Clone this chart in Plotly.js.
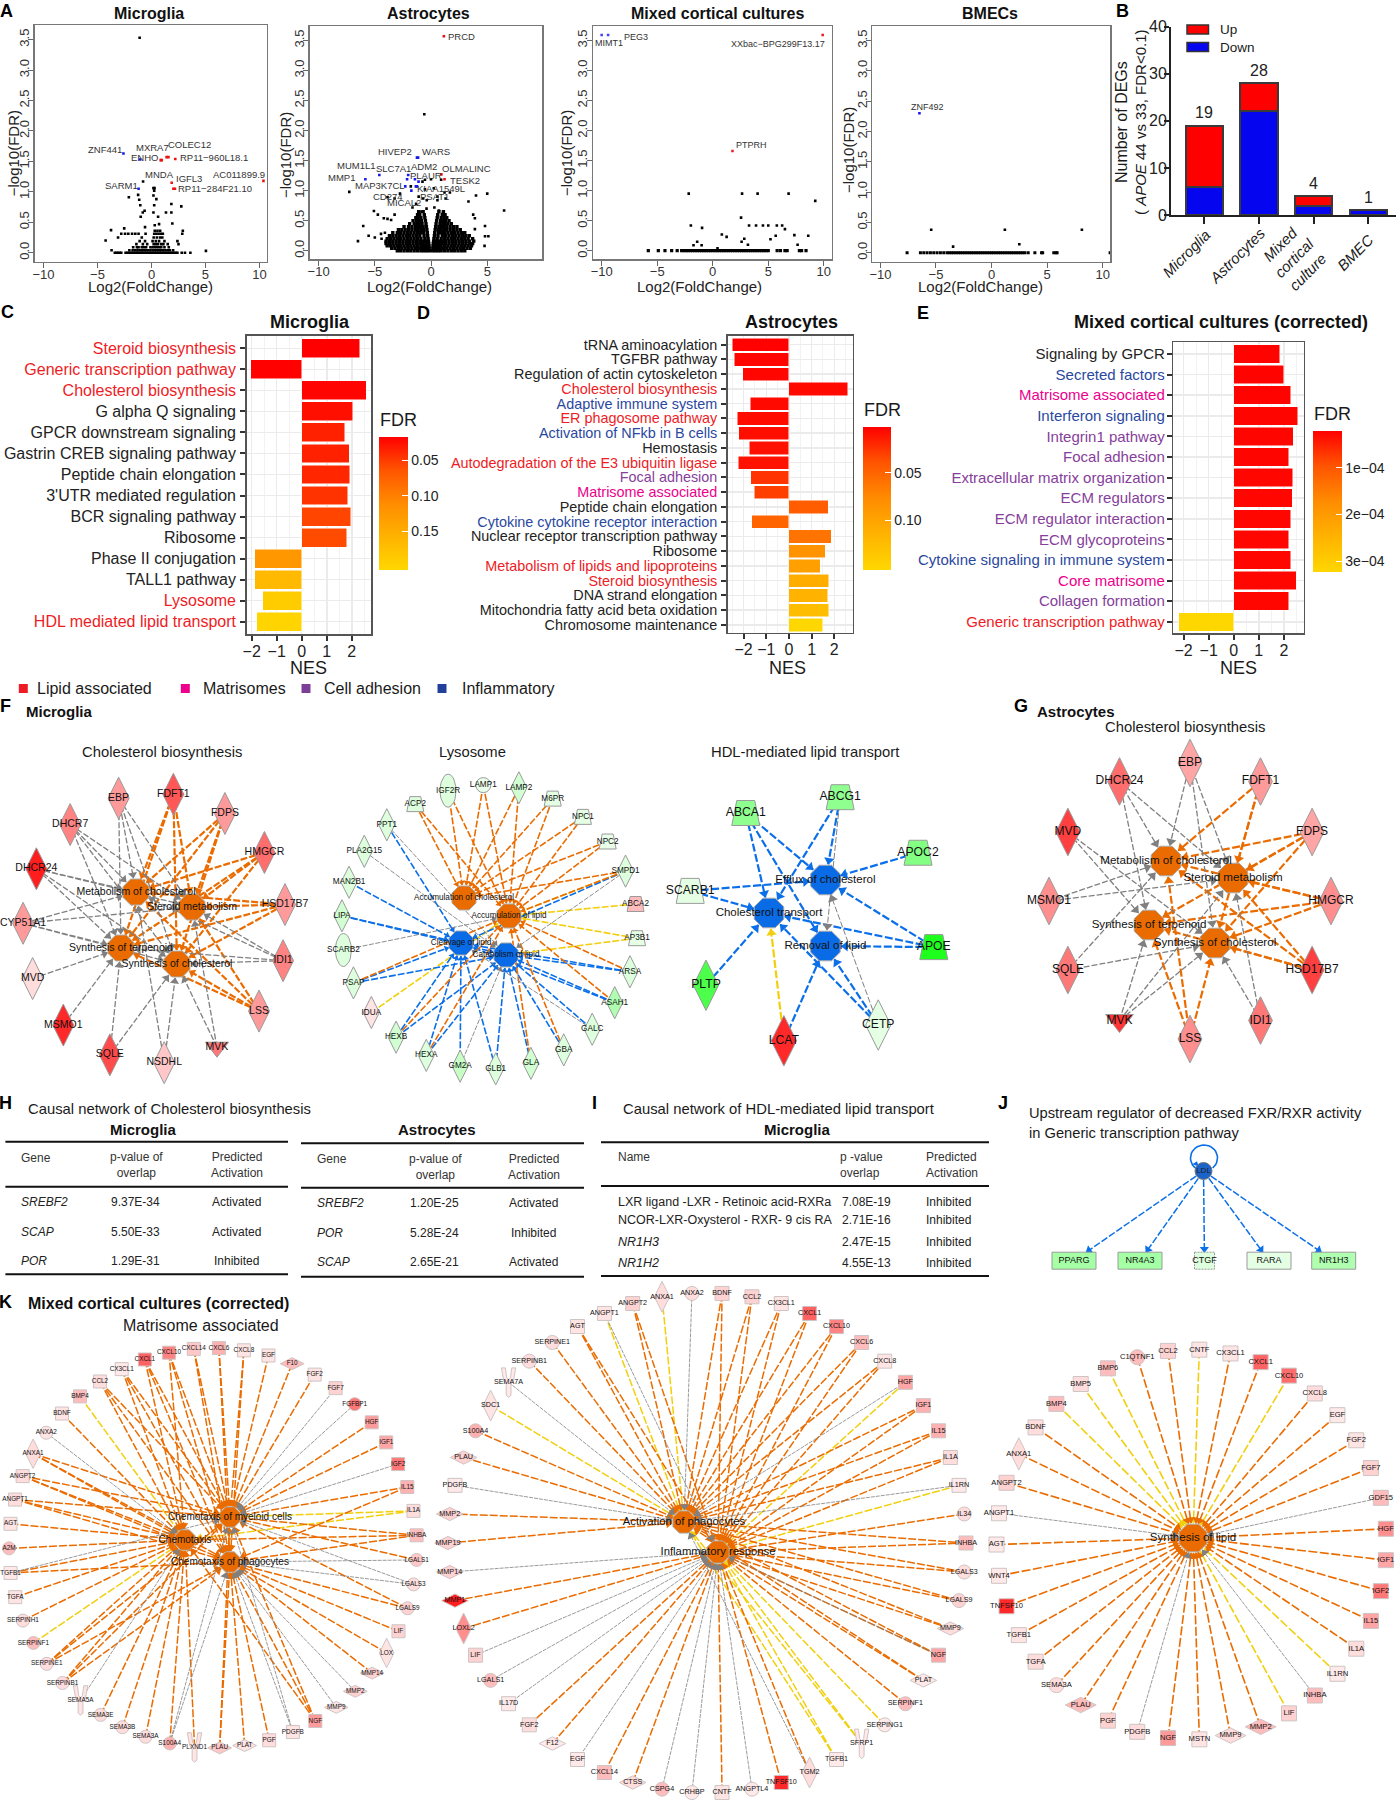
<!DOCTYPE html>
<html><head><meta charset="utf-8">
<script src="https://cdn.plot.ly/plotly-3.0.1.min.js"></script>
<style>html,body{margin:0;padding:0;background:#fff}#c{width:1397px;height:1800px}</style>
</head><body><div id="c"></div>
<script>
// ===== DATA: panel A volcano plots =====
const mgRowLevels=[0,.04,.09,.14,.19,.25,.31,.36];
const mgRowX=[
[-3.4,-3.25,-3.1,-2.95,-2.8,-2.4,-2.25,-2.1,-1.95,-1.8,-1.65,-1.5,-1.35,-1.2,-1.05,-.9,-.75,-.6,-.45,-.3,-.15,0,.15,.3,.45,.6,.75,.9,1.05,1.2,1.35,1.5,1.65,1.8,1.95,2.1,2.25,2.4,2.8,3.1,3.6],
[-3.7,-2.05,-1.75,-1.5,-1.3,-1.1,-.9,-.7,-.5,-.3,-.1,.1,.3,.5,.7,.9,1.1,1.3,1.5,1.7,2],
[-1.7,-1.35,-1.2,-.9,-.7,-.5,-.1,.1,.3,.5,.7,.9,1.2,1.6],
[-1.4,-.8,-.4,.2,.4,.6,.9,1.1,1.5,2.5],
[-1.1,-.6,.1,.4,.7,1.2,2.4],
[-3.1,-.9,.2,.5,.8,1],
[-2.8,-2.45,-2.15,-1.8,-1.5,-1.2,-.55,.25,.45,.65,.85,1.05,2.85],
[.3,.55,.8,2.9]];
const mgBlackX=[-1.1,-.78,.18,.28,.25,-2.1,-1.24,-1.14,-1.04,.18,.45,.25,1.84,2.76,-.64,-.81,.18,.61,1.34,1.84,1.93,-1,5.04,-3.75,-2.53,-4.25,-.6,.3,.7];
const mgBlackY=[3.53,1.17,1.06,1.06,1.02,.91,.95,.87,.78,.94,.88,.78,.8,.76,.69,.66,.66,.59,.66,.66,.48,.59,.03,.37,.4,.2,.42,.45,.47];
const mgBlueX=[-2.6,-1.2,-1.07];
const mgBlueY=[1.63,1.05,1.53];
const mgRedX=[.85,.95,1.4,1.57,2.2,1.87,2.03,2.17,10.37];
const mgRedY=[1.52,1.52,1.57,1.57,1.54,1.15,1.05,1.05,1.18];

const asRowLevels=[0,.04,.08,.12,.16,.2,.25,.3,.35,.4,.45,.5,.55,.6,.65];
const asRowX=[
[-3,-2.7,-2.4,-2.1,-1.8,-1.5,-1.2,-.9,-.65,-.4,-.15,.15,.4,.65,.9,1.2,1.5,1.8,2.1,2.4,2.7,3],
[-3.5,-3.2,-2.9,-2.6,-2.3,-2,-1.7,-1.4,-1.1,-.85,-.6,-.38,-.16,.16,.38,.6,.85,1.1,1.4,1.7,2,2.3,2.6,2.9,3.2,3.5],
[-3.9,-3.6,-3.3,-3,-2.7,-2.4,-2.1,-1.8,-1.5,-1.2,-.9,-.65,-.42,-.18,.18,.42,.65,.9,1.2,1.5,1.8,2.1,2.4,2.7,3,3.3,3.6],
[-4,-3.7,-3.4,-3.1,-2.8,-2.5,-2.2,-1.9,-1.6,-1.3,-1,-.75,-.47,-.2,.2,.47,.75,1,1.3,1.6,1.9,2.2,2.5,2.8,3.1,3.4,3.7],
[-4,-3.7,-3.4,-3.1,-2.8,-2.5,-2.2,-1.9,-1.6,-1.3,-1,-.75,-.48,-.23,.23,.48,.75,1,1.3,1.6,1.9,2.2,2.5,2.8,3.1,3.4,3.8],
[-3.9,-3.6,-3.3,-3,-2.7,-2.4,-2.1,-1.8,-1.5,-1.2,-.9,-.55,-.26,.26,.55,.9,1.2,1.5,1.8,2.1,2.4,2.7,3,3.3,3.7],
[-3.7,-3.4,-3.1,-2.8,-2.5,-2.2,-1.9,-1.6,-1.3,-1,-.62,-.3,.3,.62,1,1.3,1.6,1.9,2.2,2.5,2.8,3.1,3.4],
[-3.4,-3,-2.7,-2.4,-2.1,-1.8,-1.5,-1.2,-.95,-.65,-.33,.33,.65,.95,1.2,1.5,1.8,2.1,2.4,2.7,3],
[-2.9,-2.6,-2.3,-2,-1.7,-1.4,-1.15,-.9,-.66,-.37,.37,.66,.9,1.15,1.4,1.7,2,2.3,2.6],
[-2.4,-2,-1.7,-1.4,-1.15,-.95,-.7,-.41,.41,.7,.95,1.15,1.4,1.7,2,2.3],
[-1.9,-1.5,-1.25,-1.05,-.8,-.45,.45,.8,1.05,1.25,1.5,1.8],
[-1.6,-1.3,-1.1,-.85,-.5,.5,.85,1.1,1.3,1.6],
[-1.35,-1.15,-.9,-.55,.55,.9,1.15,1.4],
[-1.2,-1,-.6,.6,1,1.25],
[-1.1,-.7,.7,1.1]];
const asBlackX=[-.6,-7.27,5,4,3.33,6.5,3.75,3.9,-5.08,-4.73,-3.24,-6.03,-6.5,-5.55,-5,-4.2,-3.87,-3.55,4.8,4.8,5.1,4.76,-2.76,-3.87,-3.24,-1.65,-1.33,-.54,-.76,0,.9,-.54,.25,1.68,1.2,.57,1.3,-.7,-1.1,-.38,.57,-1.8,-.85,-.4,.7,1.05,.3,-4.45,-4.1,-4.4,-4,3.9,2.9,3.05];
const asBlackY=[2.27,.98,.95,.92,.82,.67,.6,.54,.66,.6,.6,.41,.16,.25,.22,.54,.53,.51,.41,.24,.24,.08,.95,.89,.87,.72,.78,1.18,1.15,1.19,1.18,1.02,1.04,.97,.97,.9,.87,.87,.9,.84,.84,1.07,.65,.7,.67,.62,.72,.28,.3,.2,.14,.36,.3,.24];
const asBlueX=[-5.84,-4.6,-2.03,-2.13,-1.43,-1.11,-1.25,-1.15,-2.29,-1.35,-1.25,-1.75];
const asBlueY=[1.19,1.26,1.26,1.19,1.19,1.15,1.55,1.55,1.07,1.07,1.07,1];
const asRedX=[1.14,.92,1.2];
const asRedY=[3.57,1.27,1.19];

const mxBaseX=[-5.8,-4.9,-4.3,-3.7,-3.2,-2.8,-2.6,-2.4,-2.2,-2,-1.8,-1.6,-1.4,-1.2,-1,-.8,-.6,-.4,-.2,0,.2,.4,.6,.8,1,1.2,1.4,1.6,1.8,2,2.2,2.4,2.6,2.8,3,3.2,3.4,3.6,3.8,4,4.2,4.4,4.6,4.8,5,5.8,6.1,6.5,6.7,7.8,8,8.4];
const mxBlackX=[-2.16,2.64,4.04,6.83,9.23,2.55,-1.97,-.96,3.27,3.9,4.52,5,5.77,6.25,6.5,.82,1.25,2.84,2.6,3.17,5.67,5.2,7.35,8.6,7.64,-1.4,-1.73,-1,.43];
const mxBlackY=[.95,.95,.95,.95,.83,.55,.42,.38,.42,.42,.42,.42,.42,.42,.36,.27,.23,.2,.15,.1,.25,.19,.26,.25,.1,.15,.09,.09,.04];
const mxBlueX=[-10,-9.42];
const mxBlueY=[3.59,3.59];
const mxRedX=[9.9,1.78];
const mxRedY=[3.59,1.66];

const bmBaseX=[-7.6,-6.4,-6.1,-5.8,-5.5,-5.2,-4.9,-4.6,-4.3,-4,-3.8,-3.6,-3.4,-3.2,-3,-2.8,-2.6,-2.4,-2.2,-2,-1.8,-1.6,-1.4,-1.2,-1,-.8,-.6,-.4,-.2,0,.2,.4,.6,.8,1,1.2,1.4,1.6,1.8,2,2.2,2.4,2.6,2.8,3,3.3,3.9,4.5,4.6,5.6,5.8,5.9,10.67];
const bmBlackX=[-5.43,1.2,8.13,2.5,-3.46];
const bmBlackY=[.38,.38,.38,.14,.1];
const bmBlueX=[-6.49];
const bmBlueY=[2.3];

// ===== DATA: panel B =====
const degCats=['Microglia','Astrocytes','Mixed cortical culture','BMEC'];
const degDown=[6,22,2,1];
const degUp=[13,6,2,0];
const degTotals=[19,28,4,1];

// ===== DATA: panels C, D, E =====
const cNames=['Steroid biosynthesis','Generic transcription pathway','Cholesterol biosynthesis','G alpha Q signaling','GPCR downstream signaling','Gastrin CREB signaling pathway','Peptide chain elongation',"3'UTR mediated regulation",'BCR signaling pathway','Ribosome','Phase II conjugation','TALL1 pathway','Lysosome','HDL mediated lipid transport'];
const cGroup=['L','L','L','','','','','','','','','','L','L'];
const cNES=[2.31,-2.03,2.57,2.04,1.72,1.89,1.91,1.83,1.96,1.8,-1.88,-1.88,-1.55,-1.79];
const cFDR=[.017,.018,.019,.025,.035,.035,.038,.045,.055,.058,.125,.165,.19,.2];
const dNames=['tRNA aminoacylation','TGFBR pathway','Regulation of actin cytoskeleton','Cholesterol biosynthesis','Adaptive immune system','ER phagosome pathway','Activation of NFkb in B cells','Hemostasis','Autodegradation of the E3 ubiquitin ligase','Focal adhesion','Matrisome associated','Peptide chain elongation','Cytokine cytokine receptor interaction','Nuclear receptor transcription pathway','Ribosome','Metabolism of lipids and lipoproteins','Steroid biosynthesis','DNA strand elongation','Mitochondria fatty acid beta oxidation','Chromosome maintenance'];
const dGroup=['','','','L','I','L','I','','L','A','M','','I','','','L','L','','',''];
const dNES=[-2.49,-2.41,-2.03,2.59,-1.71,-2.28,-2.21,-1.74,-2.24,-1.69,-1.53,1.74,-1.65,1.87,1.59,1.37,1.76,1.71,1.75,1.5];
const dFDR=[.003,.004,.005,.006,.006,.007,.008,.009,.01,.025,.03,.045,.05,.06,.085,.095,.11,.115,.125,.152];
const eNames=['Signaling by GPCR','Secreted factors','Matrisome associated','Interferon signaling','Integrin1 pathway','Focal adhesion','Extracellular matrix organization','ECM regulators','ECM regulator interaction','ECM glycoproteins','Cytokine signaling in immune system','Core matrisome','Collagen formation','Generic transcription pathway'];
const eGroup=['','I','M','I','A','A','A','A','A','A','I','M','A','L'];
const eNES=[1.84,2,2.27,2.56,2.37,2.2,2.35,2.33,2.27,2.2,2.28,2.49,2.19,-2.19];
const eFDR=[.000025,.000025,.000025,.000026,.000026,.000026,.000027,.000027,.000027,.000027,.000028,.000028,.000028,.000323];
const legendNames=['Lipid associated','Matrisomes','Cell adhesion','Inflammatory'];

// ===== DATA: networks (value: + up / - down; shape code; edges: type letter + target hub indices) =====
const cholNames=['FDFT1','FDPS','HMGCR','HSD17B7','IDI1','LSS','MVK','NSDHL','SQLE','MSMO1','MVD','CYP51A1','DHCR24','DHCR7','EBP'];
const cholVals=[.75,.45,.65,.45,.55,.45,.6,.25,.8,.95,.15,.45,1,.55,.45];
const cholShapes=['d','d','d','d','d','d','v','d','d','d','d','d','d','d','d'];
const cholEdges=['o0123','o0123','o0123','o0123','g0123','o0123','g13','g03','g23','g2','g2','g0123','g0123','g0123','g0123'];
const cholHubs=['Metabolism of cholesterol','Steroid metabolism','Synthesis of terpenoid','Synthesis of cholesterol'];

const lysoNames=['LAMP1','LAMP2','M6PR','NPC1','NPC2','SMPD1','ABCA2','AP3B1','ARSA','ASAH1','GALC','GBA','GLA','GLB1','GM2A','HEXA','HEXB','IDUA','PSAP','SCARB2','LIPA','MAN2B1','PLA2G15','PPT1','ACP2','IGF2R'];
const lysoVals=[-.1,-.2,-.12,-.12,-.1,-.15,.3,-.12,-.15,-.35,-.15,-.15,-.2,-.15,-.25,-.15,-.2,.12,-.15,-.15,-.2,-.15,-.15,-.15,-.15,-.15];
const lysoShapes=['c','d','t','t','t','d','t','t','d','d','d','d','d','d','d','d','d','d','d','e','d','d','d','d','t','e'];
const lysoEdges=['o01','o01','o01','o01','o01','o01 y1 b2 g3','y1','y13','o1 b23','o1 b23','b3 g2','o1 b3','o1 b3','b23','b2 g3','o1 b23','o1 b23','y1','o1 b23','g1','b23','b2','g3','b2 g3','o01','o01'];
const lysoHubs=['Accumulation of cholesterol','Accumulation of lipid','Cleavage of lipid','Catabolism of lipid'];

const hdlNames=['ABCG1','APOC2','APOE','CETP','LCAT','PLTP','SCARB1','ABCA1'];
const hdlVals=[-.5,-.55,-1,-.12,.95,-.8,-.12,-.5];
const hdlShapes=['t','t','t','d','d','d','t','t'];
const hdlEdges=['b01 g2','b0','b012','b12 g0','y1 b2','b1','b01','b012'];
const hdlHubs=['Efflux of cholesterol','Cholesterol transport','Removal of lipid'];

const gNames=['EBP','FDFT1','FDPS','HMGCR','HSD17B7','IDI1','LSS','MVK','SQLE','MSMO1','MVD','DHCR24'];
const gVals=[.4,.45,.4,.5,.85,.6,.5,.9,.6,.5,.85,.65];
const gShapes=['d','d','d','d','d','d','d','v','d','d','d','d'];
const gEdges=['g013','o013','o0123','o0123','o0123','g13','o023','g123','g03','g01','g23','g012'];
const gHubs=cholHubs;

const k1Names=['CXCL14','CXCL6','CXCL8','EGF','F10','FGF2','FGF7','FGFBP1','HGF','IGF1','IGF2','IL15','IL1A','INHBA','LGALS1','LGALS3','LGALS9','LIF','LOX','MMP14','MMP2','MMP9','NGF','PDGFB','PGF','PLAT','PLAU','PLXND1','S100A4','SEMA3A','SEMA3B','SEMA3E','SEMA5A','SERPINB1','SERPINE1','SERPINF1','SERPINH1','TGFA','TGFB1','A2M','AGT','ANGPT1','ANGPT2','ANXA1','ANXA2','BDNF','BMP4','CCL2','CX3CL1','CXCL1','CXCL10'];
const k1Vals=[.25,.35,.12,.12,.3,.12,.2,.6,.45,.4,.6,.35,.15,.3,.25,.15,.2,.2,.12,.2,.2,.12,.45,.12,.15,.12,.25,.12,.35,.15,.15,.15,.12,.15,.15,.3,.15,.12,.1,.3,.12,.15,.15,.15,.12,.12,.3,.15,.1,.7,.55];
const k1Shapes=['s','s','s','s','w','s','s','c','s','s','s','s','s','s','c','c','c','s','d','w','w','w','s','s','s','w','w','y','c','c','c','c','y','c','c','c','c','s','s','c','s','s','s','d','c','s','s','s','s','s','s'];
const k1Edges=['o12','o12','o12','o1','o1','o1','g1','g1','o1','o1','g1','o12','y01','o012','o1 g2','g12','o12','o2','o2','o2','g2','g2','o012','g12','o2','o2','o12','o0','o0 g12','o0','o0','o0','g0','o012','o012','y0','o0','o0','o02 g1','o0','o0','o012','o012','o012','g0','o0','y0','o012','o012','o012','o012'];
const k1Hubs=['Chemotaxis','Chemotaxis of myeloid cells','Chemotaxis of phagocytes'];

const k2Names=['ANXA1','ANXA2','BDNF','CCL2','CX3CL1','CXCL1','CXCL10','CXCL6','CXCL8','HGF','IGF1','IL15','IL1A','IL1RN','IL34','INHBA','LGALS3','LGALS9','MMP9','NGF','PLAT','SERPINF1','SERPING1','SFRP1','TGFB1','TGM2','TNFSF10','ANGPTL4','CNTF','CRHBP','CSPG4','CTSS','CXCL14','EGF','F12','FGF2','IL17D','LGALS1','LIF','LOXL2','MMP1','MMP14','MMP19','MMP2','PDGFB','PLAU','S100A4','SDC1','SEMA7A','SERPINB1','SERPINE1','AGT','ANGPT1','ANGPT2'];
const k2Vals=[.15,.15,.2,.2,.12,.7,.55,.3,.12,.4,.35,.35,.15,.1,.15,.3,.15,.2,.15,.4,.1,.3,.1,.1,.1,.15,.95,.1,.12,.1,.3,.15,.3,.1,.1,.15,.1,.3,.2,.5,1,.2,.2,.2,.1,.2,.35,.12,.1,.15,.15,.12,.12,.2];
const k2Shapes=['d','c','s','s','s','s','s','s','s','s','s','s','s','s','c','s','c','c','w','s','w','c','c','y','s','d','s','c','s','c','c','w','s','s','w','s','s','c','s','d','w','w','w','w','s','w','c','d','y','c','c','s','s','s'];
const k2Edges=['y0','g0','o01','o01','o01','o01','o01','o01','o01','y1 g0','o01','o01','o01','y1 g0','o1','o01','o01','o01','o01','o01 g1','o01','o1','y1','y01','y01','o1 g0','o1','g1','o1','g1','g1','o1','o1','g1','o1','o1','g1','g1','g1','o1','o1','g1','o0','o0','g0','o0','o0','y0','g0','o0','o0','o01','y0 g1','o01'];
const k2Hubs=['Activation of phagocytes','Inflammatory response'];

const k3Names=['CNTF','CX3CL1','CXCL1','CXCL10','CXCL8','EGF','FGF2','FGF7','GDF15','HGF','IGF1','IGF2','IL15','IL1A','IL1RN','INHBA','LIF','MMP2','MMP9','MSTN','NGF','PDGFB','PGF','PLAU','SEMA3A','TGFA','TGFB1','TNFSF10','WNT4','AGT','ANGPT1','ANGPT2','ANXA1','BDNF','BMP4','BMP5','BMP6','C1QTNF1','CCL2'];
const k3Vals=[.12,.12,.7,.65,.15,.1,.12,.2,.3,.5,.4,.6,.4,.15,.1,.3,.2,.3,.15,.12,.45,.15,.2,.3,.15,.15,.12,.95,.1,.1,.1,.2,.15,.15,.3,.15,.3,.3,.2];
const k3Shapes=['s','s','s','s','s','s','s','s','s','s','s','s','s','s','s','s','s','w','w','s','s','s','s','w','c','s','s','s','s','s','s','s','d','s','s','s','s','c','s'];
const k3Edges=['y0','o0','o0','y0','o0','o0','o0','o0','g0','o0','o0','o0','o0','o0','y0','g0','y0','o0','o0','o0','o0','g0','o0','o0','o0','o0','o0','o0','o0','o0','g0','o0','o0','o0','y0','y0','y0','o0','o0'];
const k3Hubs=['Synthesis of lipid'];

const jNames=['PPARG','NR4A3','CTGF','RARA','NR1H3'];
const jVals=[-.4,-.4,-.15,-.12,-.35];

// ===== DATA: tables =====
const hHead=['Gene','p-value of<br>overlap','Predicted<br>Activation'];
const hMgGene=['SREBF2','SCAP','POR'];
const hMgP=['9.37E-34','5.50E-33','1.29E-31'];
const hMgAct=['Activated','Activated','Inhibited'];
const hAsGene=['SREBF2','POR','SCAP'];
const hAsP=['1.20E-25','5.28E-24','2.65E-21'];
const hAsAct=['Activated','Inhibited','Activated'];
const iName=['LXR ligand -LXR - Retinoic acid-RXRa','NCOR-LXR-Oxysterol - RXR- 9 cis RA','<i>NR1H3</i>','<i>NR1H2</i>'];
const iP=['7.08E-19','2.71E-16','2.47E-15','4.55E-13'];
const iAct=['Inhibited','Inhibited','Inhibited','Inhibited'];

// ===== BUILD =====
const W=1397,H=1800,FF='Liberation Sans, Arial, sans-serif';
const traces=[],ann=[],shapes=[];
const layout={width:W,height:H,margin:{l:0,r:0,t:0,b:0,pad:0},paper_bgcolor:'#fff',plot_bgcolor:'#fff',showlegend:false,barmode:'stack',font:{family:FF,color:'#222'},annotations:ann,shapes:shapes,
 xaxis:{domain:[0,1],range:[0,W],visible:false,fixedrange:true},yaxis:{domain:[0,1],range:[H,0],visible:false,fixedrange:true}};
function T(text,x,y,size,o){o=o||{};ann.push({text:text,x:x,y:y,xref:'x',yref:'y',showarrow:false,xanchor:o.a||'center',yanchor:'middle',align:o.al||(o.a=='left'?'left':'center'),textangle:o.rot||0,borderpad:0,
 font:{size:size,family:FF,color:o.c||'#1a1a1a',weight:o.b?700:400}});}
function B(t){return '<b>'+t+'</b>';}
function setAxes(n,l,r,t,b,xr,yr,xo,yo){
 layout['xaxis'+n]=Object.assign({domain:[l/W,r/W],range:xr,anchor:'y'+n,fixedrange:true,zeroline:false},xo);
 layout['yaxis'+n]=Object.assign({domain:[1-b/H,1-t/H],range:yr,anchor:'x'+n,fixedrange:true,zeroline:false},yo);}

// ---- volcano ----
function flat(levels,rows){const X=[],Y=[];rows.forEach((r,i)=>r.forEach(v=>{X.push(v);Y.push(levels[i]);}));return [X,Y];}
function volcano(n,box,xr,yr,title,tx,xl,ylx,ylyc,sets,labels,mf){
 const base={showline:true,mirror:true,linecolor:'#777',linewidth:1.5,ticks:'outside',ticklen:5,tickcolor:'#666',tickwidth:1,showgrid:false,tickfont:{size:13,color:'#333'}};
 setAxes(n,box[0],box[1],box[2],box[3],xr,yr,Object.assign({},base,{tickvals:[-10,-5,0,5,10],ticklabelstandoff:-5}),Object.assign({},base,{tickvals:[0,.5,1,1.5,2,2.5,3,3.5],tickformat:'.1f',tickangle:-90,ticklabelstandoff:-6}));
 sets.forEach(s=>traces.push({type:'scatter',mode:'markers',x:s.x,y:s.y,xaxis:'x'+n,yaxis:'y'+n,hoverinfo:'skip',marker:{symbol:'square',size:s.size||2.6,color:s.c}}));
 [-1,1].forEach(v=>shapes.push({type:'line',layer:'below',xref:'x'+n,yref:'y'+n+' domain',x0:v,x1:v,y0:0,y1:1,line:{color:'#c4c4c4',width:1,dash:'dot'}}));
 shapes.push({type:'line',layer:'below',xref:'x'+n+' domain',yref:'y'+n,x0:0,x1:1,y0:1,y1:1,line:{color:'#c4c4c4',width:1,dash:'dot'}});
 T(B(title),tx,13.5,16,{c:'#111'});
 T('Log2(FoldChange)',xl,286,15,{c:'#222'});
 T('−log10(FDR)',ylx,ylyc,15,{rot:-90,c:'#222'});
 labels.forEach(a=>T(a[0],a[1],a[2],mf||9.5,{c:'#333'}));
}
const mgF=flat(mgRowLevels,mgRowX),asF=flat(asRowLevels,asRowX);
volcano(2,[34.6,266.8,25,261.7],[-10.83,10.68],[-.148,3.74],'Microglia',148.6,150,13.6,153.7,
 [{x:mgF[0],y:mgF[1],c:'#000'},{x:mgBlackX,y:mgBlackY,c:'#000'},{x:mgBlueX,y:mgBlueY,c:'#1a1aee'},{x:mgRedX,y:mgRedY,c:'#ee1111'}],
 [['ZNF441',105,149],['MXRA7',152.5,147],['COLEC12',189,144.7],['ENHO',144.6,157],['RP11−960L18.1',214,157],['MNDA',159,174],['AC011899.9',238.6,174],['IGFL3',189,178.7],['SARM1',121.4,185.7],['RP11−284F21.10',215,188]]);
volcano(3,[309.6,542,26,259.3],[-10.8,9.87],[-.143,3.74],'Astrocytes',428.6,429,285,155,
 [{x:asF[0],y:asF[1],c:'#000',size:3.4},{x:asBlackX,y:asBlackY,c:'#000'},{x:asBlueX,y:asBlueY,c:'#1a1aee'},{x:asRedX,y:asRedY,c:'#ee1111'}],
 [['PRCD',461.8,36],['HIVEP2',395,151],['WARS',435.7,151],['MUM1L1',356.4,165],['SLC7A1',393.6,168],['ADM2',424,166],['OLMALINC',466.4,168],['MMP1',341,177],['PLAUR',426,175],['TESK2',465,180],['MAP3K7CL',380,185],['KIAA1549L',441,188],['CD274',388,196],['PSAT1',434,196],['MICAL2',403.6,202]]);
volcano(4,[593,831.8,26,259.3],[-10.78,10.72],[-.143,3.74],'Mixed cortical cultures',717.5,699.4,566,153,
 [{x:mxBaseX,y:mxBaseX.map(()=>0),c:'#000',size:3.2},{x:mxBlackX,y:mxBlackY,c:'#000'},{x:mxBlueX,y:mxBlueY,c:'#4444ff'},{x:mxRedX,y:mxRedY,c:'#ee2222'}],
 [['MIMT1',609,43],['PEG3',636,36.7],['XXbac−BPG299F13.17',778,44.3],['PTPRH',751,145]],9);
volcano(5,[872.3,1110,26,261.7],[-10.73,10.66],[-.148,3.74],'BMECs',990,980,848,150,
 [{x:bmBaseX,y:bmBaseX.map(()=>0),c:'#000',size:3},{x:bmBlackX,y:bmBlackY,c:'#000'},{x:bmBlueX,y:bmBlueY,c:'#1a1aee'}],
 [['ZNF492',927,106.7]],9);

// ---- panel B ----
setAxes(6,1171,1395.6,26.7,215,[-.61,3.5],[0,40],
 {showline:true,linecolor:'#222',linewidth:2,ticks:'outside',ticklen:7,tickwidth:2,tickcolor:'#222',tickvals:[0,1,2,3],ticktext:['','','',''],showgrid:false},
 {showline:true,linecolor:'#222',linewidth:2,ticks:'outside',ticklen:5,tickwidth:2,tickcolor:'#222',tickvals:[0,10,20,30,40],showgrid:false,tickfont:{size:16,color:'#222'},ticklabelstandoff:-6});
const degIdx=degCats.map((_,i)=>i);
traces.push({type:'bar',x:degIdx,y:degDown,name:'Down',width:.68,xaxis:'x6',yaxis:'y6',hoverinfo:'skip',marker:{color:'#0505f0',line:{color:'#3a3a3a',width:2}}});
traces.push({type:'bar',x:degIdx,y:degUp,name:'Up',width:.68,xaxis:'x6',yaxis:'y6',hoverinfo:'skip',marker:{color:'#ff0000',line:{color:'#3a3a3a',width:2}}});
degTotals.forEach((v,i)=>ann.push({text:String(v),x:i,y:v,xref:'x6',yref:'y6',yshift:13,showarrow:false,font:{size:16,color:'#222',family:FF}}));
T('<i>Microglia</i>',1186,253,15,{rot:-45});
T('<i>Astrocytes</i>',1237,255,15,{rot:-45});
T('<i>Mixed<br>cortical<br>culture</i>',1294,258,15,{rot:-45});
T('<i>BMEC</i>',1355,252,15,{rot:-45});
T('Number of DEGs',1121,122,16,{rot:-90});
T('( <i>APOE</i> 44 vs 33, FDR&lt;0.1)',1140,122,15,{rot:-90});
[['Up',29.5,'#ff0000'],['Down',47,'#0505f0']].forEach(a=>{
 shapes.push({type:'rect',xref:'x',yref:'y',x0:1187,x1:1208.5,y0:a[1]-4.5,y1:a[1]+4.5,fillcolor:a[2],line:{color:'#333',width:1.5}});
 T(a[0],1219,a[1],13.5,{a:'left'});});

// ---- ranked bars ----
const GROUP={L:'#ee1c25',M:'#ec008c',A:'#86409b',I:'#2a48a0','':'#222'};
// The FDR colour bar runs red (small) at the top to gold (large) at the bottom, so colour is keyed on -FDR.
const SCALE=[[0,'#FFD700'],[.25,'#FFB300'],[.5,'#FF8C00'],[.75,'#FF5500'],[1,'#FF0000']];
function nesBars(n,box,xr,yr,names,group,nes,fdr,fs,cb,title,tx,nesX,standoff,shift){
 const a={showline:true,mirror:true,linecolor:'#555',linewidth:1.5,ticks:'outside',tickcolor:'#333',tickwidth:2,ticklen:5,showgrid:true,gridcolor:'#ebebeb',gridwidth:1.5};
 setAxes(n,box[0],box[1],box[2],box[3],xr,yr,Object.assign({},a,{tickmode:'linear',tick0:0,dtick:1,tickfont:{size:16,color:'#222'},ticklabelstandoff:-3,ticklabelshift:shift||0,minor:{dtick:.5,showgrid:true,gridcolor:'#f2f2f2',gridwidth:1}}),
  Object.assign({},a,{tickvals:names.map((_,i)=>i),ticktext:names.map((s,i)=>'<span style="color:'+GROUP[group[i]]+'">'+s+'</span>'),tickfont:{size:fs,color:'#222'},ticklabelstandoff:standoff}));
 traces.push({type:'bar',orientation:'h',x:nes,y:names.map((_,i)=>i),width:.9,xaxis:'x'+n,yaxis:'y'+n,hoverinfo:'skip',
  marker:{color:fdr.map(v=>-v),colorscale:SCALE,cmin:-cb.max,cmax:-cb.min,line:{color:'#fff',width:.5},
   colorbar:{x:cb.l/W,xanchor:'left',xpad:0,ypad:0,y:1-(cb.t+cb.b)/2/H,yanchor:'middle',thickness:cb.r-cb.l,thicknessmode:'pixels',len:cb.b-cb.t,lenmode:'pixels',outlinewidth:0,borderwidth:0,
    ticks:'inside',ticklen:6,tickcolor:'#fff',tickwidth:1,tickvals:cb.vals.map(v=>-v),ticktext:cb.text,tickfont:{size:14,color:'#222'}}}});
 cb.vals.forEach(v=>{const y=cb.t+(v-cb.min)/(cb.max-cb.min)*(cb.b-cb.t);shapes.push({type:'line',layer:'above',xref:'x',yref:'y',x0:cb.l,x1:cb.l+6,y0:y,y1:y,line:{color:'#fff',width:1}});});
 T('FDR',cb.l,cb.t-17,18,{a:'left'});
 T(B(title),tx,322,18,{c:'#111'});
 T('NES',nesX,668,18);
}
nesBars(7,[246.7,371.3,335.7,634.3],[-2.2,2.78],[13.6,-.6],cNames,cGroup,cNES,cFDR,16,{l:379.3,r:408.3,t:436.7,b:570,min:.017,max:.204,vals:[.05,.1,.15],text:['0.05','0.10','0.15']},'Microglia',310,308,1);
nesBars(8,[727.7,852.7,335.7,632.7],[-2.7,2.81],[19.53,-.61],dNames,dGroup,dNES,dFDR,14.4,{l:863,r:890.7,t:426.7,b:570,min:.002,max:.152,vals:[.05,.1],text:['0.05','0.10']},'Astrocytes',791,787.7,1,-2.5);
nesBars(9,[1173.3,1303.7,342.3,633.3],[-2.41,2.79],[13.56,-.57],eNames,eGroup,eNES,eFDR,15,{l:1313.3,r:1342,t:431.3,b:572,min:.000022,max:.000323,vals:[.0001,.0002,.0003],text:['1e−04','2e−04','3e−04']},'Mixed cortical cultures (corrected)',1221,1238,-1);

// legend row
[[23.3,36,'#ed1c24'],[185.3,202,'#ec008c'],[306,323,'#7b3f98'],[442,461,'#21409a']].forEach((a,i)=>{
 shapes.push({type:'rect',xref:'x',yref:'y',x0:a[0]-4.5,x1:a[0]+4.5,y0:684,y1:693,fillcolor:a[2],line:{width:0}});
 T(legendNames[i],a[1],688,16,{a:'left'});});

// panel letters and headers
[['A',6,11],['B',1122,11],['C',7,312],['D',423,313],['E',923,313],['F',5,706],['G',1021,706],['H',5,1103],['I',594,1103],['J',1003,1103],['K',5,1302]].forEach(a=>T(B(a[0]),a[1],a[2],18,{c:'#000'}));
T(B('Microglia'),25,711,15,{a:'left',c:'#111'});
T(B('Astrocytes'),1036,711,15,{a:'left',c:'#111'});
T(B('Mixed cortical cultures (corrected)'),27,1303,16,{a:'left',c:'#111'});
T('Cholesterol biosynthesis',161.6,751.7,14.8);
T('Lysosome',472,751.7,14.8);
T('HDL-mediated lipid transport',805,751.7,14.8);
T('Cholesterol biosynthesis',1185,726.7,14.8);
T('Matrisome associated',201,1325,16);

// ---- networks ----
const EDGE={o:{c:'#ea6c00'},b:{c:'#0a6fe8'},g:{c:'#808080'},y:{c:'#f2cf0e'}};
function fill(v){const a=Math.abs(v),k=Math.round(255-225*a),f=k.toString(16).padStart(2,'0');return v>=0?'#ff'+f+f:'#'+f+'ff'+f;}
function polyPts(kind,w,h){
 if(kind=='t')return [[-w*.32,-h/2],[w*.32,-h/2],[w/2,h/2],[-w/2,h/2]];
 if(kind=='r')return [[-w/2,-h/2],[w/2,-h/2],[w/2,h/2],[-w/2,h/2]];
 if(kind=='e'){const p=[];for(let i=0;i<24;i++){const a=i/24*2*Math.PI;p.push([w/2*Math.cos(a),h/2*Math.sin(a)]);}return p;}
 if(kind=='y')return [[-w*.45,-h*.48],[-w*.2,-h*.48],[-w*.12,-h*.16],[0,-h*.08],[w*.12,-h*.16],[w*.2,-h*.48],[w*.45,-h*.48],[w*.3,-h*.05],[w*.15,h*.07],[w*.15,h*.43],[0,h*.5],[-w*.15,h*.43],[-w*.15,h*.07],[-w*.3,-h*.05]];
}
function addPoly(kind,x,y,w,h,col,dash,stroke){const p=polyPts(kind,w,h);const X=p.map(q=>x+q[0]),Y=p.map(q=>y+q[1]);X.push(X[0]);Y.push(Y[0]);
 traces.push({type:'scatter',mode:'lines',x:X,y:Y,fill:'toself',fillcolor:col,line:{color:stroke||'#9a9a9a',width:1,dash:dash||'solid'},hoverinfo:'skip'});}
const SYM={s:'square',c:'circle',d:'diamond-tall',w:'diamond-wide',v:'triangle-down'};
function network(o){
 const n=o.names.length,P=o.names.map((_,i)=>{const a=(o.start+i*360/n)*Math.PI/180;return [o.cx+o.rx*Math.sin(a),o.cy-o.ry*Math.cos(a)];});
 const seg={y:[[],[]],b:[[],[]],o:[[],[]],g:[[],[]]},arr={y:[[],[],[]],b:[[],[],[]],o:[[],[],[]],g:[[],[],[]]};
 const R=o.hubSize/2;
 o.edges.forEach((e,i)=>e.split(' ').forEach(tok=>{const t=tok[0];tok.slice(1).split('').forEach(d=>{
  const h=o.hubPos[+d],dx=h[0]-P[i][0],dy=h[1]-P[i][1],L=Math.hypot(dx,dy),ex=h[0]-dx/L*R,ey=h[1]-dy/L*R;
  seg[t][0].push(P[i][0],ex,null);seg[t][1].push(P[i][1],ey,null);
  const back=o.arrow*.45;arr[t][0].push(ex-dx/L*back);arr[t][1].push(ey-dy/L*back);arr[t][2].push(Math.atan2(dx,-dy)*180/Math.PI);
 });}));
 Object.keys(seg).forEach(t=>{if(!seg[t][0].length)return;
  const w=t=='g'?o.gw:o.lw,d=t=='g'?o.gdash:o.dash;
  traces.push({type:'scatter',mode:'lines',x:seg[t][0],y:seg[t][1],line:{color:EDGE[t].c,width:w,dash:d},hoverinfo:'skip'});
  traces.push({type:'scatter',mode:'markers',x:arr[t][0],y:arr[t][1],marker:{symbol:'triangle-up',size:o.arrow,color:EDGE[t].c,angle:arr[t][2],line:{width:0}},hoverinfo:'skip'});});
 o.shapes.forEach((s,i)=>{if('tey'.includes(s)){const z=o.poly[s];addPoly(s,P[i][0],P[i][1],z[0],z[1],fill(o.vals[i]),'solid',o.stroke);}});
 traces.push({type:'scatter',mode:'markers+text',x:P.map(p=>p[0]),y:P.map(p=>p[1]),text:o.names,textposition:'middle center',textfont:{size:o.font,color:'#111'},hoverinfo:'skip',cliponaxis:false,
  marker:{symbol:o.shapes.map(s=>SYM[s]||'circle'),size:o.shapes.map(s=>o.size[s]||1),opacity:o.shapes.map(s=>SYM[s]?1:0),color:o.vals.map(fill),line:{color:o.stroke||'#9a9a9a',width:1}}});
 traces.push({type:'scatter',mode:'markers+text',x:o.hubPos.map(p=>p[0]),y:o.hubPos.map(p=>p[1]),text:o.hubs,textposition:'middle center',textfont:{size:o.hubFont,color:'#111'},hoverinfo:'skip',cliponaxis:false,
  marker:{symbol:'octagon',size:o.hubSize,color:o.hubCol,line:{color:'#aaa',width:1}}});
}
const OR='#ea6c00',BL='#0a6be6';
network({names:cholNames,vals:cholVals,shapes:cholShapes,edges:cholEdges,hubs:cholHubs,cx:155,cy:928,rx:132,ry:135,start:8,
 hubPos:[[136,892],[192,907],[121,948],[177,964]],hubSize:28,hubCol:[OR,OR,OR,OR],size:{d:30,v:20},poly:{},font:10.5,hubFont:10.5,arrow:8,lw:2.2,gw:1.3,dash:'7px,2px',gdash:'6px,2px'});
network({names:lysoNames,vals:lysoVals,shapes:lysoShapes,edges:lysoEdges,hubs:lysoHubs,cx:489.5,cy:927,rx:148,ry:142,start:-2.4,
 hubPos:[[464,898],[509,916],[461,943],[506,955]],hubSize:26,hubCol:[OR,OR,BL,BL],size:{d:23,c:15},poly:{t:[17,15],e:[16,33]},font:8.2,hubFont:8.2,arrow:6,lw:1.6,gw:.9,dash:'7px,2px',gdash:'5px,1.5px'});
network({names:hdlNames,vals:hdlVals,shapes:hdlShapes,edges:hdlEdges,hubs:hdlHubs,cx:812,cy:919,rx:125,ry:125,start:13,
 hubPos:[[825.4,880],[769,913],[825.4,946]],hubSize:32,hubCol:[BL,BL,BL],size:{d:36},poly:{t:[28,25]},font:12.2,hubFont:11.5,arrow:9,lw:2.2,gw:1,dash:'8px,2.5px',gdash:'6px,2px'});
network({names:gNames,vals:gVals,shapes:gShapes,edges:gEdges,hubs:gHubs,cx:1190,cy:901,rx:141,ry:138,start:0,
 hubPos:[[1166,861],[1233,878],[1149,925],[1215,943]],hubSize:32,hubCol:[OR,OR,OR,OR],size:{d:34,v:24},poly:{},font:12,hubFont:11.6,arrow:9,lw:2.2,gw:1.3,dash:'8px,2.5px',gdash:'6px,2px'});
const KS='#cfc4c4';
network({names:k1Names,vals:k1Vals,shapes:k1Shapes,edges:k1Edges,hubs:k1Hubs,cx:213,cy:1548,rx:204,ry:200,start:-5.4,stroke:KS,
 hubPos:[[185,1540],[230,1517],[230,1562]],hubSize:22,hubCol:[OR,OR,OR],size:{s:13,c:13,d:21,w:17},poly:{y:[16,30]},font:6.4,hubFont:10,arrow:8,lw:1.5,gw:.8,dash:'8px,2px',gdash:'4px,1px'});
network({names:k2Names,vals:k2Vals,shapes:k2Shapes,edges:k2Edges,hubs:k2Hubs,cx:707,cy:1543,rx:259,ry:250,start:-10,stroke:KS,
 hubPos:[[684,1522],[718,1552]],hubSize:24,hubCol:[OR,OR],size:{s:14,c:14,d:22,w:19},poly:{y:[16,30]},font:7.2,hubFont:11.3,arrow:8,lw:1.5,gw:.8,dash:'8px,2px',gdash:'4px,1px'});
network({names:k3Names,vals:k3Vals,shapes:k3Shapes,edges:k3Edges,hubs:k3Hubs,cx:1191.5,cy:1544.5,rx:195,ry:195,start:2.3,stroke:KS,
 hubPos:[[1193,1538]],hubSize:30,hubCol:[OR],size:{s:15,c:15,d:23,w:22},poly:{},font:7.6,hubFont:11.5,arrow:8,lw:1.6,gw:.8,dash:'9px,2.5px',gdash:'4px,1px'});

// panel J
const jX=[1074,1140,1204.5,1269,1333.7],jHub=[1203.5,1171],jTop=1252;
const jL=[[],[]],jA=[[],[],[]];
jX.forEach(x=>{const k=(jTop-jHub[1])/(1260.7-jHub[1]),ex=jHub[0]+(x-jHub[0])*k;jL[0].push(jHub[0],ex,null);jL[1].push(jHub[1],jTop,null);
 const dx=x-jHub[0],dy=1260.7-jHub[1],l=Math.hypot(dx,dy);jA[0].push(ex-dx/l*3);jA[1].push(jTop-dy/l*3);jA[2].push(Math.atan2(dx,-dy)*180/Math.PI);});
traces.push({type:'scatter',mode:'lines',x:jL[0],y:jL[1],line:{color:EDGE.b.c,width:1.5,dash:'7px,2px'},hoverinfo:'skip'});
traces.push({type:'scatter',mode:'markers',x:jA[0],y:jA[1],marker:{symbol:'triangle-up',size:8,color:EDGE.b.c,angle:jA[2],line:{width:0}},hoverinfo:'skip'});
const loopX=[],loopY=[];for(let a=-150;a<=140;a+=10){const t=a*Math.PI/180;loopX.push(1204+13.5*Math.sin(t));loopY.push(1158-13*Math.cos(t));}
traces.push({type:'scatter',mode:'lines',x:loopX,y:loopY,line:{color:EDGE.b.c,width:1.6},hoverinfo:'skip'});
traces.push({type:'scatter',mode:'markers',x:[1196],y:[1164],marker:{symbol:'triangle-up',size:6,color:EDGE.b.c,angle:[20],line:{width:0}},hoverinfo:'skip'});
jNames.forEach((s,i)=>addPoly('r',jX[i],1260.7,i==2?20:44,17,fill(jVals[i]),i==2?'2px,1px':'solid'));
traces.push({type:'scatter',mode:'text',x:jX,y:jX.map(()=>1261),text:jNames,textposition:'middle center',textfont:{size:9,color:'#111'},hoverinfo:'skip'});
traces.push({type:'scatter',mode:'markers+text',x:[jHub[0]],y:[jHub[1]],text:['LDL'],textposition:'middle center',textfont:{size:8,color:'#222'},hoverinfo:'skip',marker:{symbol:'circle',size:17,color:'#1a63c8',line:{color:'#777',width:1}}});
T('Upstream regulator of decreased FXR/RXR activity',1027.5,1112.7,14.7,{a:'left'});
T('in Generic transcription pathway',1027.5,1132.7,14.7,{a:'left'});

// ---- tables ----
function rule(x0,x1,y){shapes.push({type:'line',xref:'x',yref:'y',x0:x0,x1:x1,y0:y,y1:y,line:{color:'#111',width:2}});}
T('Causal network of Cholesterol biosynthesis',27,1109,14.8,{a:'left'});
T(B('Microglia'),143,1129,15,{c:'#111'});
T(B('Astrocytes'),436.6,1129,15,{c:'#111'});
[1141.7,1186.7,1274.3].forEach(y=>rule(5.4,288,y));
[1143.3,1187.7,1276.7].forEach(y=>rule(301,584,y));
function hTable(gx,px,pc,ac,hy,rows,G,P,A){
 T(hHead[0],gx,hy,12,{a:'left',c:'#333'});T(hHead[1],pc,hy+7.5,12,{c:'#333'});T(hHead[2],ac,hy+7.5,12,{c:'#333'});
 rows.forEach((y,i)=>{T('<i>'+G[i]+'</i>',gx,y,12,{a:'left',c:'#222'});T(P[i],px,y,12,{a:'left',c:'#222'});T(A[i],ac,y,12,{c:'#222'});});
}
hTable(20,110,136.6,236.6,1157.7,[1202.3,1231.7,1261],hMgGene,hMgP,hMgAct);
hTable(316,409,435,533.5,1159,[1203.3,1232.7,1262.3],hAsGene,hAsP,hAsAct);
T('Causal network of HDL-mediated lipid transport',622,1109,14.8,{a:'left'});
T(B('Microglia'),797.4,1129,15,{c:'#111'});
[1142.3,1186,1276].forEach(y=>rule(601,989,y));
T('Name',616.8,1156.7,12,{a:'left',c:'#333'});
T('p -value<br>overlap',838.6,1164.5,12,{a:'left',c:'#333'});
T('Predicted<br>Activation',924.5,1164.5,12,{a:'left',c:'#333'});
[1202.3,1219.7,1242.3,1262.7].forEach((y,i)=>{T(iName[i],616.8,y,12.5,{a:'left',c:'#222'});T(iP[i],840.6,y,12,{a:'left',c:'#222'});T(iAct[i],924.5,y,12,{a:'left',c:'#222'});});

Plotly.newPlot('c',traces,layout,{staticPlot:true,displayModeBar:false});
</script></body></html>
